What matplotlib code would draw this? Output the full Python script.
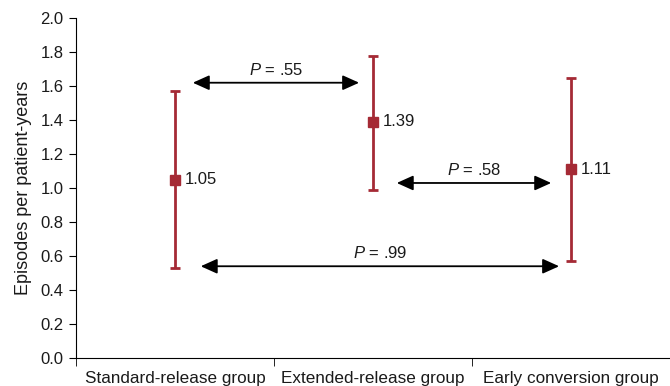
import matplotlib.pyplot as plt

plt.rcParams['font.family'] = ['Liberation Sans', 'DejaVu Sans']
plt.rcParams['mathtext.fontset'] = 'custom'
plt.rcParams['mathtext.it'] = 'Liberation Sans:italic'
plt.rcParams['mathtext.rm'] = 'Liberation Sans'

groups = ['Standard-release group', 'Extended-release group', 'Early conversion group']
rates = [1.05, 1.39, 1.11]
lower = [0.53, 0.99, 0.57]
upper = [1.57, 1.78, 1.65]

# comparisons: (from, to, y, label)
comp_from = [0.09, 1.12, 0.13]
comp_to = [0.93, 1.90, 1.94]
comp_y = [1.62, 1.03, 0.54]
comp_p = ['.55', '.58', '.99']

red = '#a52a35'
fs = 12

fig = plt.figure(figsize=(6.7, 3.86), dpi=100)
ax = fig.add_axes([0.1134, 0.0725, 0.8866, 0.8805])

x = list(range(len(groups)))
err = [[r - l for r, l in zip(rates, lower)], [u - r for r, u in zip(rates, upper)]]
ax.errorbar(x, rates, yerr=err, fmt='s', color=red, ecolor=red, elinewidth=2,
            capsize=3.5, capthick=2, markersize=6.5)
for xi, r in zip(x, rates):
    ax.text(xi + 0.048, r, f'{r:.2f}', va='center', ha='left', fontsize=fs, color='#1a1a1a')

for a, b, yy, p in zip(comp_from, comp_to, comp_y, comp_p):
    ax.annotate('', xy=(b, yy), xytext=(a, yy),
                arrowprops=dict(arrowstyle='<|-|>,head_length=1.0,head_width=0.45',
                                color='black', lw=1.3, shrinkA=0, shrinkB=0))
    ax.text((a + b) / 2, yy + 0.03, f'$P$ = {p}', ha='center', va='bottom',
            fontsize=fs, color='#1a1a1a')

ax.set_xlim(-0.5, 2.5)
ax.set_ylim(0, 2.0)
ax.set_yticks([i / 5 for i in range(11)])
ax.set_yticklabels([f'{i / 5:.1f}' for i in range(11)], fontsize=fs, color='#1a1a1a')
ax.set_xticks(x)
ax.set_xticklabels(groups, fontsize=12.3, color='#1a1a1a')
ax.tick_params(axis='x', which='major', length=0, pad=9)
ax.set_xticks([-0.5, 0.5, 1.5], minor=True)
ax.tick_params(axis='x', which='minor', length=6, direction='out')
ax.tick_params(axis='y', length=5, direction='out', pad=4)
ax.set_ylabel('Episodes per patient-years', fontsize=13, color='#1a1a1a', labelpad=6)
for s in ['top', 'right']:
    ax.spines[s].set_visible(False)

fig.savefig('out.png', dpi=100)
